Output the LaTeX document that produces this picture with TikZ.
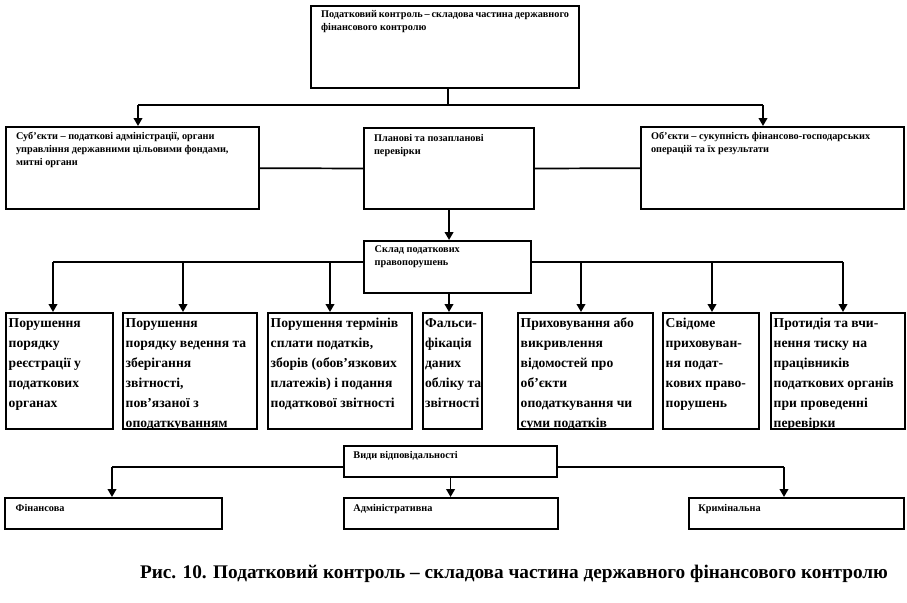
\documentclass[tikz,border=0pt]{standalone}
\usepackage{fontspec}
\setmainfont{Liberation Serif}
\usetikzlibrary{arrows.meta,calc}
\tikzset{
  box/.style={draw=black,line width=1.6pt,rectangle,anchor=north west,font=\bfseries},
  small/.style={font=\bfseries\fontsize{7.7}{9.8}\selectfont},
  big/.style={font=\bfseries\fontsize{10.2}{15}\selectfont},
  conn/.style={draw=black,line width=1.3pt},
  arr/.style={conn,-{Triangle[width=6.5pt,length=6pt]}},
}
\newcommand\fl{\rule{0pt}{8.6pt}}
% name, x, y (px), width, height (pt), xsep, ysep, style, text
\newcommand\bn[9]{\node[box,#8,inner xsep=#6,inner ysep=#7,minimum width=#4,minimum height=#5] (#1) at (#2,#3)
  {\parbox[c][\dimexpr#5-#7-#7\relax][t]{\dimexpr#4-#6-#6\relax}{#9}};}
\begin{document}
\begin{tikzpicture}[x=0.75pt,y=-0.75pt]
\useasboundingbox (0,0) rectangle (907,603);
% top row
\bn{top}{310}{5}{201pt}{61.5pt}{7.5pt}{3.5pt}{small}{Податковий контроль – складова частина державного\\ фінансового контролю}
\bn{left}{5}{126}{189.75pt}{61.5pt}{7.5pt}{3.5pt}{small}{Суб’єкти – податкові адміністрації, органи\\ управління державними цільовими фондами,\\ митні органи}
\bn{mid}{363}{127}{127.5pt}{60.75pt}{7.5pt}{4.5pt}{small}{Планові та позапланові\\ перевірки}
\bn{right}{640}{126}{197.25pt}{61.5pt}{7.5pt}{3.5pt}{small}{Об’єкти – сукупність фінансово-господарських\\ операцій та їх результати}
\bn{sklad}{363}{240}{125.25pt}{39pt}{8pt}{3.5pt}{small}{Склад податкових\\ правопорушень}
% violations
\bn{b1}{5}{312}{80.25pt}{87pt}{2pt}{2pt}{big}{\fl Порушення\\ порядку\\ реєстрації у\\ податкових\\ органах}
\bn{b2}{122}{312}{100.5pt}{87pt}{2pt}{2pt}{big}{\fl Порушення\\ порядку ведення та\\ зберігання\\ звітності,\\ пов’язаної з\\ оподаткуванням}
\bn{b3}{267}{312}{108pt}{87pt}{2pt}{2pt}{big}{\fl Порушення термінів\\ сплати податків,\\ зборів (обов’язкових\\ платежів) і подання\\ податкової звітності}
\bn{b4}{422}{312}{44.25pt}{87pt}{1.5pt}{2pt}{big}{\fl Фальси-\\ фікація\\ даних\\ \mbox{обліку та}\\ звітності}
\bn{b5}{517}{312}{101.25pt}{87pt}{2pt}{2pt}{big}{\fl Приховування або\\ викривлення\\ відомостей про\\ об’єкти\\ оподаткування чи\\ суми податків}
\bn{b6}{662}{312}{72pt}{87pt}{2pt}{2pt}{big}{\fl Свідоме\\ приховуван-\\ ня подат-\\ кових право-\\ порушень}
\bn{b7}{770}{312}{100.5pt}{87pt}{2pt}{2pt}{big}{\fl Протидія та вчи-\\ нення тиску на\\ працівників\\ податкових органів\\ при проведенні\\ перевірки}
% responsibility
\bn{vid}{343}{445}{159.75pt}{23.25pt}{7pt}{4pt}{small}{Види відповідальності}
\bn{fin}{4}{497}{162.75pt}{23.25pt}{8pt}{5pt}{small}{Фінансова}
\bn{adm}{343}{497}{160.5pt}{23.25pt}{7pt}{5pt}{small}{Адміністративна}
\bn{krim}{688}{497}{161.25pt}{23.25pt}{7pt}{5pt}{small}{Кримінальна}
% connectors: top
\coordinate (h1) at (448,105);
\coordinate (h1L) at (138,105);
\coordinate (h1R) at (763,105);
\draw[conn] (top.south -| h1) -- (h1);
\draw[conn] (h1L) -- (h1R);
\draw[arr] (h1L) -- (h1L |- left.north);
\draw[arr] (h1R) -- (h1R |- right.north);
\draw[conn] (left) -- (mid);
\draw[conn] (mid) -- (right);
\draw[arr] (mid.south) -- (mid.south |- sklad.north);
% connectors: violations
\coordinate (c1) at (53,262);
\coordinate (c2) at (183,262);
\coordinate (c3) at (330,262);
\coordinate (c4) at (449,262);
\coordinate (c5) at (581,262);
\coordinate (c6) at (712,262);
\coordinate (c7) at (843,262);
\draw[conn] (sklad.west |- c1) -- (c1);
\draw[conn] (sklad.east |- c7) -- (c7);
\foreach \c/\b in {c1/b1,c2/b2,c3/b3,c5/b5,c6/b6,c7/b7}{
  \draw[arr] (\c) -- (\c |- \b.north);
}
\draw[arr] (sklad.south -| c4) -- (c4 |- b4.north);
% connectors: responsibility
\coordinate (v1) at (112,467);
\coordinate (v3) at (784,467);
\draw[conn] (vid.west |- v1) -- (v1);
\draw[conn] (vid.east |- v3) -- (v3);
\draw[arr] (v1) -- (v1 |- fin.north);
\draw[arr] (v3) -- (v3 |- krim.north);
\draw[arr] (vid.south) -- (vid.south |- adm.north);
% caption
\node[font=\bfseries\fontsize{13}{15}\selectfont] (cap) at (514,574) {\resizebox{561pt}{!}{Рис. 10. Податковий контроль – складова частина державного фінансового контролю}};
\end{tikzpicture}
\end{document}
